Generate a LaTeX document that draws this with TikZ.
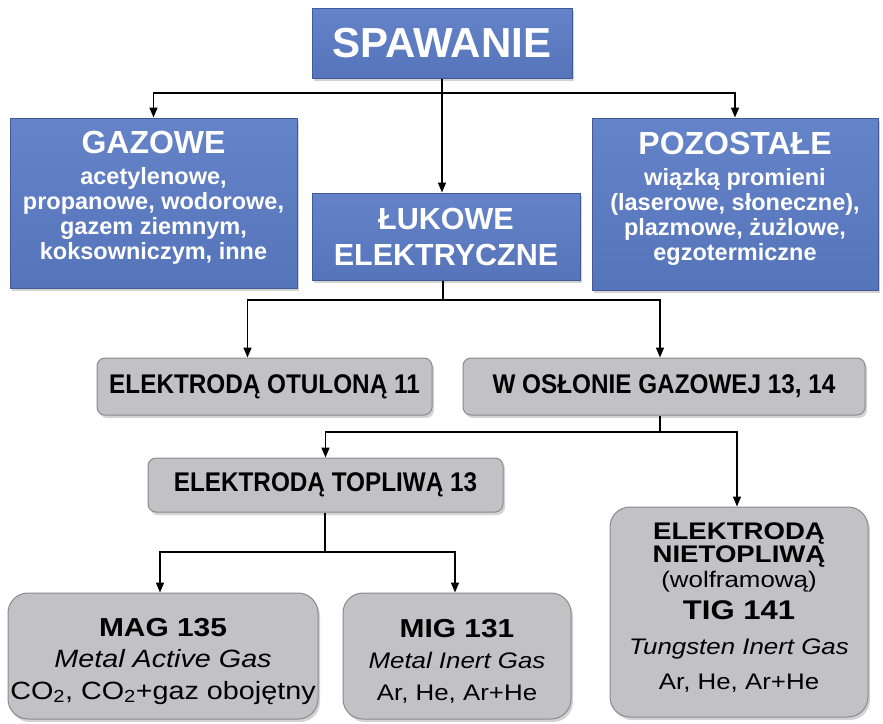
\documentclass[tikz,border=0pt]{standalone}
\usepackage{fontspec}
\setmainfont{Liberation Sans}
\newfontfamily\szerokifont[FakeStretch=1.15]{Liberation Sans}
\newfontfamily\waskifont[FakeStretch=0.9]{Liberation Sans}
\usetikzlibrary{arrows.meta,shadows}

\definecolor{niebieski}{HTML}{5574BA}
\definecolor{niebieskiJ}{HTML}{6583C8}
\definecolor{niebieskiC}{HTML}{3F5A96}
\definecolor{szary}{HTML}{C2C2C4}
\definecolor{szaryC}{HTML}{8A8A8C}

\tikzset{
  cien/.style={drop shadow={shadow xshift=2pt, shadow yshift=-3pt, opacity=0.35}},
  blok/.style={draw=niebieskiC, line width=1pt, top color=niebieskiJ, bottom color=niebieski,
    text=white, align=center, inner sep=0pt, cien},
  szaryblok/.style={draw=szaryC, line width=1pt, fill=szary, rounded corners=8pt,
    align=center, inner sep=0pt, cien, font=\waskifont\fontsize{27}{30}\selectfont\bfseries},
  duzyblok/.style={szaryblok, rounded corners=20pt},
  strz/.style={-{Triangle[length=10pt,width=8pt]}, line width=1.5pt},
  linia/.style={line width=1.5pt}
}

\begin{document}
\begin{tikzpicture}[x=1pt, y=-1pt]
  \useasboundingbox (0,0) rectangle (883,723);

  % Bloki niebieskie
  \node[blok, minimum width=260pt, minimum height=70pt,
    font=\fontsize{42}{44}\selectfont\bfseries] (spaw) at (442,43) {SPAWANIE};
  \node[blok, minimum width=287pt, minimum height=170pt,
    font=\fontsize{23.5}{25}\selectfont\bfseries] (gaz) at (153.5,203)
    {{\fontsize{32}{32}\selectfont GAZOWE}\\[6pt]acetylenowe,\\propanowe, wodorowe,\\gazem ziemnym,\\koksowniczym, inne\\[-9pt]\mbox{}};
  \node[blok, minimum width=286pt, minimum height=172pt,
    font=\fontsize{23.5}{25}\selectfont\bfseries] (poz) at (735,204)
    {{\fontsize{32}{32}\selectfont POZOSTAŁE}\\[6pt]wiązką promieni\\(laserowe, słoneczne),\\plazmowe, żużlowe,\\egzotermiczne\\[-9pt]\mbox{}};
  \node[blok, minimum width=268pt, minimum height=87pt,
    font=\fontsize{30.5}{36}\selectfont\bfseries] (luk) at (446,236.5) {ŁUKOWE\\ELEKTRYCZNE};

  % Bloki szare
  \node[szaryblok, minimum width=335pt, minimum height=57pt] (otul) at (264.5,386.5) {ELEKTRODĄ OTULONĄ 11};
  \node[szaryblok, minimum width=402pt, minimum height=57pt] (osl) at (664,386.5) {W OSŁONIE GAZOWEJ 13, 14};
  \node[szaryblok, minimum width=355pt, minimum height=54pt] (topl) at (325.5,485) {ELEKTRODĄ TOPLIWĄ 13};

  \node[duzyblok, minimum width=310pt, minimum height=126pt,
    font=\szerokifont\fontsize{25}{31.5}\selectfont] (mag) at (163,656)
    {\mbox{}\\[-3pt]{\bfseries\fontsize{26}{32}\selectfont MAG 135}\\\textit{Metal Active Gas}\\CO\textsubscript{2}, CO\textsubscript{2}+gaz obojętny};
  \node[duzyblok, minimum width=228pt, minimum height=126pt,
    font=\szerokifont\fontsize{22.5}{31.5}\selectfont] (mig) at (457,656)
    {\mbox{}\\[-3pt]{\bfseries\fontsize{26}{32}\selectfont MIG 131}\\\textit{Metal Inert Gas}\\Ar, He, Ar+He};
  \node[duzyblok, minimum width=258pt, minimum height=210pt,
    font=\szerokifont\fontsize{22.5}{25}\selectfont] (tig) at (739,612)
    {{\bfseries\fontsize{24}{24}\selectfont ELEKTRODĄ}\\[-2pt]{\bfseries\fontsize{24}{24}\selectfont NIETOPLIWĄ}\\(wolframową)\\[7pt]
     {\bfseries\fontsize{27}{27}\selectfont TIG 141}\\[10pt]\textit{Tungsten Inert Gas}\\[10pt]Ar, He, Ar+He\\[-13pt]\mbox{}};

  % Rozgałęzienia
  \coordinate (r1) at (442,93);
  \coordinate (r2) at (443,300);
  \coordinate (r3) at (660,432);
  \coordinate (r4) at (325,552);

  % Strzałki
  \draw[strz] (spaw.south) -- (spaw.south |- luk.north);
  \draw[strz] (r1) -| (gaz.north);
  \draw[strz] (r1) -| (poz.north);

  \draw[linia] (luk.south -| r2) -- (r2);
  \draw[strz] (r2) -| ([xshift=-17pt]otul.north);
  \draw[strz] (r2) -| ([xshift=-4pt]osl.north);

  \draw[linia] (osl.south -| r3) -- (r3);
  \draw[strz] (r3) -| (topl.north);
  \draw[strz] (r3) -| ([xshift=-2pt]tig.north);

  \draw[linia] (topl.south -| r4) -- (r4);
  \draw[strz] (r4) -| ([xshift=-3pt]mag.north);
  \draw[strz] (r4) -| ([xshift=-2pt]mig.north);
\end{tikzpicture}
\end{document}
